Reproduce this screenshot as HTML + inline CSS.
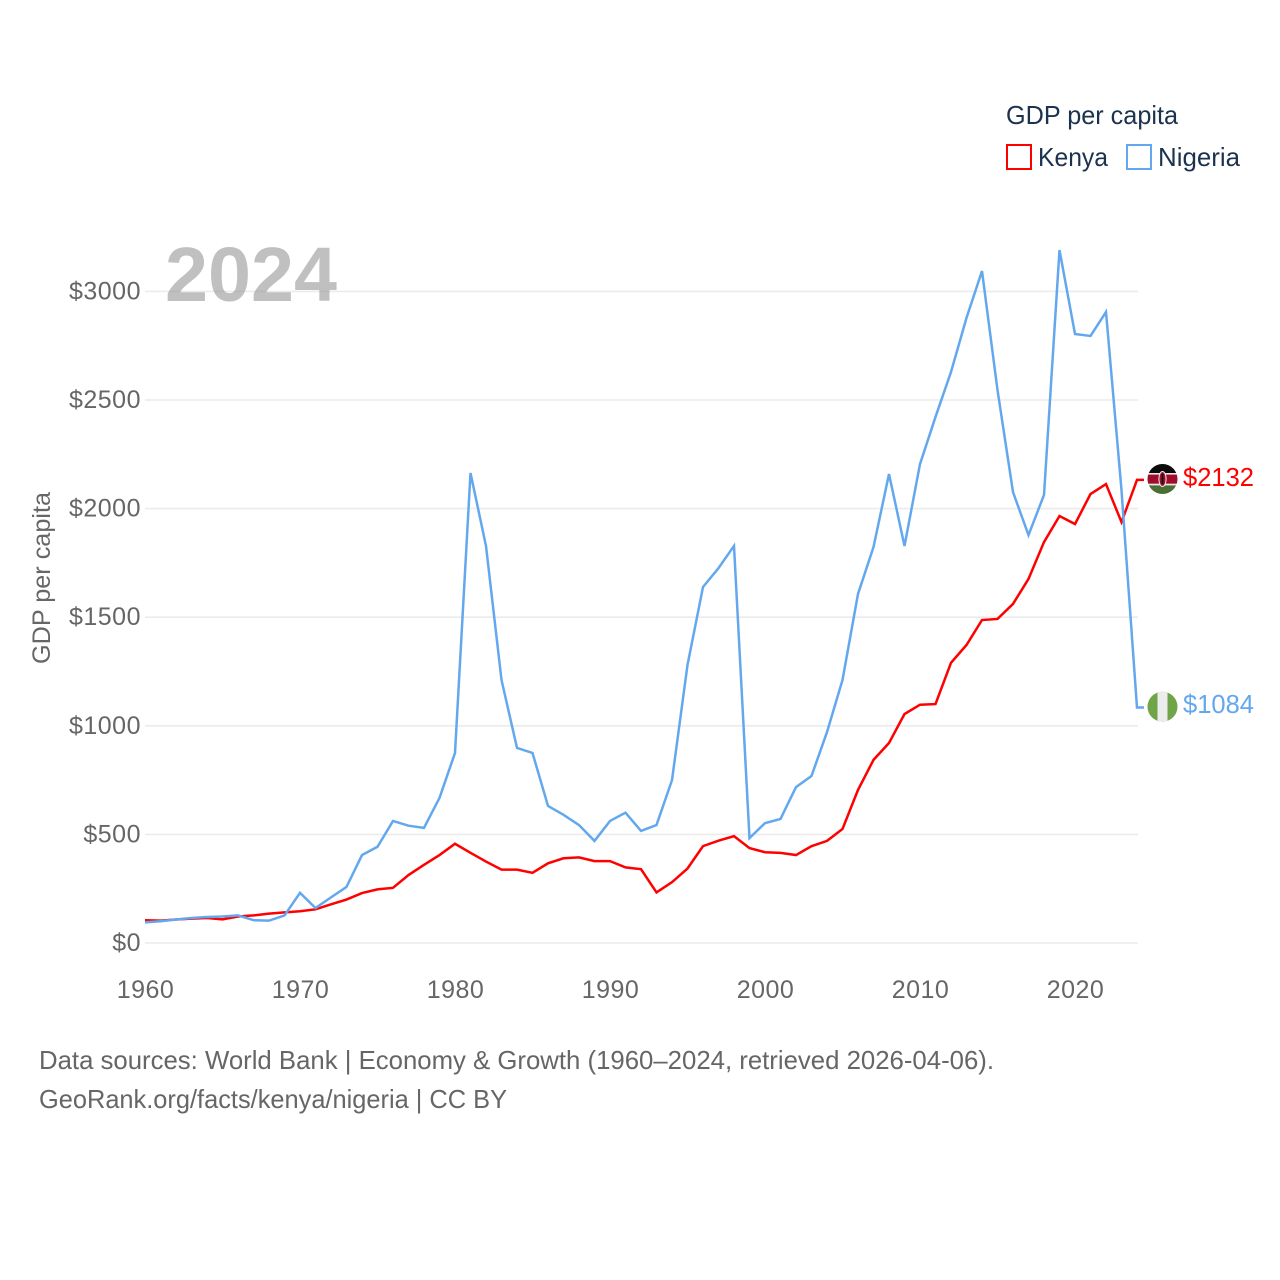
<!DOCTYPE html>
<html lang="en">
<head>
<meta charset="utf-8">
<title>GDP per capita: Kenya and Nigeria</title>
<style>
html,body{margin:0;padding:0;background:#fff;}
svg{display:block;font-family:"Liberation Sans",sans-serif;}
</style>
</head>
<body>
<svg id="chart" xmlns="http://www.w3.org/2000/svg" width="1280" height="1280" viewBox="0 0 1280 1280">
  <defs>
    <clipPath id="clip-kenya"><circle cx="1162.5" cy="479" r="15"/></clipPath>
    <clipPath id="clip-nigeria"><circle cx="1162.5" cy="706.7" r="15"/></clipPath>
  </defs>
  <rect width="1280" height="1280" fill="#fff"/>
  <g id="grid"></g>
  <g id="y-ticks"></g>
  <g id="x-ticks"></g>
  <text x="42" y="578" transform="rotate(-90 42 578)" dy="8" text-anchor="middle" font-size="25" fill="#666" textLength="172" lengthAdjust="spacingAndGlyphs">GDP per capita</text>
  <text x="165" y="301" font-size="77" font-weight="700" fill="#999" fill-opacity="0.62" textLength="172" lengthAdjust="spacingAndGlyphs">2024</text>
  <g id="series"></g>

  <g>
    <text x="1006" y="124" font-size="26" fill="#1c3350" textLength="172" lengthAdjust="spacingAndGlyphs">GDP per capita</text>
    <g>
      <rect x="1007" y="145" width="24" height="24" fill="none" stroke="#ff0000" stroke-width="2"/>
      <text x="1038" y="166" font-size="26" fill="#1c3350" textLength="70" lengthAdjust="spacingAndGlyphs">Kenya</text>
    </g>
    <g>
      <rect x="1127" y="145" width="24" height="24" fill="none" stroke="#63a8ee" stroke-width="2"/>
      <text x="1158" y="166" font-size="26" fill="#1c3350" textLength="82" lengthAdjust="spacingAndGlyphs">Nigeria</text>
    </g>
  </g>

  <g clip-path="url(#clip-kenya)">
    <rect x="1147" y="464" width="31" height="9" fill="#0b0b0b"/>
    <rect x="1147" y="473" width="31" height="1.6" fill="#e8e8e8"/>
    <rect x="1147" y="474.6" width="31" height="9.2" fill="#a00c2c"/>
    <rect x="1147" y="483.8" width="31" height="1.6" fill="#e8e8e8"/>
    <rect x="1147" y="485.4" width="31" height="9" fill="#4a6e33"/>
    <ellipse cx="1162.5" cy="479" rx="3.6" ry="7.5" fill="#a00c2c" stroke="#eee" stroke-width="1"/>
    <rect x="1161.6" y="474" width="1.8" height="10" fill="#111"/>
  </g>
  <text id="label-kenya" x="1183" y="486" font-size="26" fill="#ff0000" textLength="71" lengthAdjust="spacingAndGlyphs">$2132</text>

  <g clip-path="url(#clip-nigeria)">
    <rect x="1147" y="691" width="31" height="32" fill="#6fa548"/>
    <rect x="1157.5" y="691" width="10" height="32" fill="#ececec"/>
  </g>
  <text id="label-nigeria" x="1183" y="713" font-size="26" fill="#63a8ee" textLength="71" lengthAdjust="spacingAndGlyphs">$1084</text>

  <g>
    <text x="39" y="1069" font-size="26" fill="#666" textLength="955" lengthAdjust="spacingAndGlyphs">Data sources: World Bank | Economy &amp; Growth (1960–2024, retrieved 2026-04-06).</text>
    <text x="39" y="1108" font-size="26" fill="#666" textLength="468" lengthAdjust="spacingAndGlyphs">GeoRank.org/facts/kenya/nigeria | CC BY</text>
  </g>
</svg>
<script>
const startYear = 1960;
const kenyaValues = [105,103,108,112,115,109,122,127,135,141,146,155,178,200,230,247,254,313,360,405,457,415,375,338,338,323,367,390,394,377,377,348,340,233,280,343,446,471,492,437,418,415,405,446,470,525,705,843,921,1054,1097,1100,1290,1372,1487,1492,1561,1676,1846,1966,1929,2067,2113,1938,2132];
const nigeriaValues = [95,100,108,115,120,122,127,105,103,127,231,161,210,258,405,443,562,540,530,668,875,2164,1828,1211,898,875,631,590,543,470,562,600,516,543,750,1280,1639,1726,1828,483,552,571,718,769,971,1211,1607,1823,2159,1828,2205,2422,2629,2878,3094,2546,2076,1878,2063,3190,2804,2795,2905,2085,1084];
const yTickValues = [0,500,1000,1500,2000,2500,3000];
const xTickValues = [1960,1970,1980,1990,2000,2010,2020];

const NS = 'http://www.w3.org/2000/svg';
function xScale(year){ return 145 + (year - 1960) * 15.5; }
function yScale(value){ return 943 - value * 0.2172; }
function make(tag, attrs){
  const el = document.createElementNS(NS, tag);
  for (const k in attrs) el.setAttribute(k, attrs[k]);
  return el;
}
const grid = document.getElementById('grid');
const yTicks = document.getElementById('y-ticks');
const xTicks = document.getElementById('x-ticks');
const series = document.getElementById('series');

yTickValues.forEach(function(v){
  const line = make('line', {x1:145, x2:1138, y1:yScale(v), y2:yScale(v), stroke:'#ebebeb', 'stroke-width':1.6});
  
  
  grid.appendChild(line);
  const label = make('text', {x:141, y:yScale(v)+8, 'text-anchor':'end', 'font-size':25, 'letter-spacing':'0.5', fill:'#666'});
  
  
  label.textContent = '$' + v;
  yTicks.appendChild(label);
});
xTickValues.forEach(function(y){
  const label = make('text', {x:xScale(y)+0.5, y:998, 'text-anchor':'middle', 'font-size':25, 'letter-spacing':'0.5', fill:'#666'});
  
  
  label.textContent = y;
  xTicks.appendChild(label);
});
function drawSeries(values, color){
  let d = values.map(function(v,i){
    return (i ? 'L' : 'M') + xScale(startYear + i).toFixed(2) + ' ' + yScale(v).toFixed(2);
  }).join(' ');
  const last = values[values.length - 1];
  d += ' L' + (xScale(startYear + values.length - 1) + 7) + ' ' + yScale(last).toFixed(2);
  const path = make('path', {d:d, fill:'none', stroke:color, 'stroke-width':2.5, 'stroke-linejoin':'miter'});
  return path;
}
const kenyaLine = drawSeries(kenyaValues, '#ff0000');


series.appendChild(kenyaLine);
const nigeriaLine = drawSeries(nigeriaValues, '#63a8ee');


series.appendChild(nigeriaLine);
</script>
</body>
</html>
